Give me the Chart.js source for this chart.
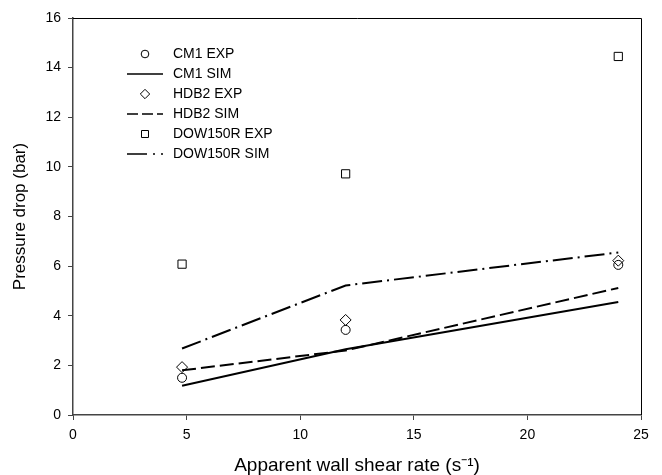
<!DOCTYPE html>
<html>
<head>
<meta charset="utf-8">
<script src="https://cdn.jsdelivr.net/npm/chart.js@4"></script>
<style>
  html, body { margin: 0; padding: 0; background: #fff; }
  #wrap { width: 662px; height: 475px; }
</style>
</head>
<body>
<div id="wrap"><canvas id="pressureChart" width="662" height="475"></canvas></div>
<script>
// apparent wall shear rate (s^-1)
const shearRate = [4.8, 12, 24];

// pressure drop (bar)
const cm1Exp  = [1.50, 3.43, 6.05];
const cm1Sim  = [1.18, 2.65, 4.55];
const hdb2Exp = [1.93, 3.83, 6.22];
const hdb2Sim = [1.80, 2.60, 5.12];
const dowExp  = [6.08, 9.72, 14.45];
const dowSim  = [2.68, 5.22, 6.55];

const xTicks = [0, 5, 10, 15, 20, 25];
const yTicks = [0, 2, 4, 6, 8, 10, 12, 14, 16];

const FONT = '"Liberation Sans", Arial, sans-serif';

function pts(ys){
    return shearRate.map((x, i) => ({x: x, y: ys[i]}));
}

function expSet(label, ys, shape, radius){
    return {
        label: label, data: pts(ys), showLine: false,
        pointStyle: shape, pointRadius: radius, pointHoverRadius: radius,
        pointBackgroundColor: 'rgba(0,0,0,0)', pointBorderColor: '#000', pointBorderWidth: 1
    };
}

function simSet(label, ys, dash){
    return {
        label: label, data: pts(ys), showLine: true,
        borderColor: '#000', borderWidth: 2, borderDash: dash,
        pointRadius: 0, pointHoverRadius: 0, fill: false, tension: 0
    };
}

// frame round the plot + legend inside the plot
const framePlugin = {
    id: 'frame',
    afterDraw(chart){
        const ctx = chart.ctx;
        const a = chart.chartArea;
        ctx.save();
        ctx.strokeStyle = '#000';
        ctx.lineWidth = 1;
        ctx.beginPath();
        ctx.moveTo(a.left, a.top + 0.5);
        ctx.lineTo(a.right + 0.5, a.top + 0.5);
        ctx.lineTo(a.right + 0.5, a.bottom);
        ctx.stroke();

        ctx.font = '14px ' + FONT;
        ctx.textBaseline = 'middle';
        chart.data.datasets.forEach((ds, i) => {
            const y = 54 + i * 20;
            ctx.save();
            ctx.strokeStyle = '#000';
            if (ds.showLine){
                ctx.lineWidth = 1.5;
                let dash = [];
                if (ds.borderDash.length > 2) dash = [20, 6, 2, 6];
                else if (ds.borderDash.length) dash = [11, 4];
                ctx.setLineDash(dash);
                ctx.beginPath();
                ctx.moveTo(127, y);
                ctx.lineTo(163, y);
                ctx.stroke();
            } else {
                ctx.fillStyle = 'rgba(0,0,0,0)';
                ctx.lineWidth = 1;
                Chart.helpers.drawPoint(ctx, {
                    pointStyle: ds.pointStyle, radius: ds.pointRadius * 0.85,
                    borderWidth: 1, rotation: 0
                }, 145, y);
            }
            ctx.restore();
            ctx.fillStyle = '#000';
            ctx.fillText(ds.label, 173, y);
        });
        ctx.restore();
    }
};

const ctx = document.getElementById('pressureChart').getContext('2d');
const chart = new Chart(ctx, {
    type: 'scatter',
    data: {
        datasets: [
            expSet('CM1 EXP', cm1Exp, 'circle', 4.5),
            simSet('CM1 SIM', cm1Sim, []),
            expSet('HDB2 EXP', hdb2Exp, 'rectRot', 5.5),
            simSet('HDB2 SIM', hdb2Sim, [14, 5]),
            expSet('DOW150R EXP', dowExp, 'rect', 5.8),
            simSet('DOW150R SIM', dowSim, [20, 5, 2, 5])
        ]
    },
    options: {
        responsive: false,
        animation: false,
        layout: { padding: { top: 18, right: 21, left: 0, bottom: 0 } },
        plugins: { legend: { display: false }, tooltip: { enabled: false } },
        scales: {
            x: {
                type: 'linear', min: 0, max: 25,
                afterBuildTicks: s => { s.ticks = xTicks.map(v => ({value: v})); },
                afterFit: s => { s.height = 60; },
                grid: { drawOnChartArea: false, drawTicks: true, tickLength: 5, color: '#444' },
                border: { color: '#444', width: 1.5 },
                ticks: { color: '#000', padding: 7, maxRotation: 0,
                         font: { family: FONT, size: 14 } },
                title: { display: true, text: 'Apparent wall shear rate (s\u207B\u00B9)', color: '#000',
                         font: { family: FONT, size: 19 },
                         padding: { top: 0, bottom: -2 } }
            },
            y: {
                type: 'linear', min: 0, max: 16,
                afterBuildTicks: s => { s.ticks = yTicks.map(v => ({value: v})); },
                afterFit: s => { s.width = 73; },
                grid: { drawOnChartArea: false, drawTicks: true, tickLength: 5, color: '#444' },
                border: { color: '#444', width: 1.5 },
                ticks: { color: '#000', padding: 7,
                         font: { family: FONT, size: 14 } },
                title: { display: true, text: 'Pressure drop (bar)', color: '#000',
                         font: { family: FONT, size: 17 },
                         padding: { top: 10, bottom: 0 } }
            }
        }
    },
    plugins: [framePlugin]
});
</script>
</body>
</html>
